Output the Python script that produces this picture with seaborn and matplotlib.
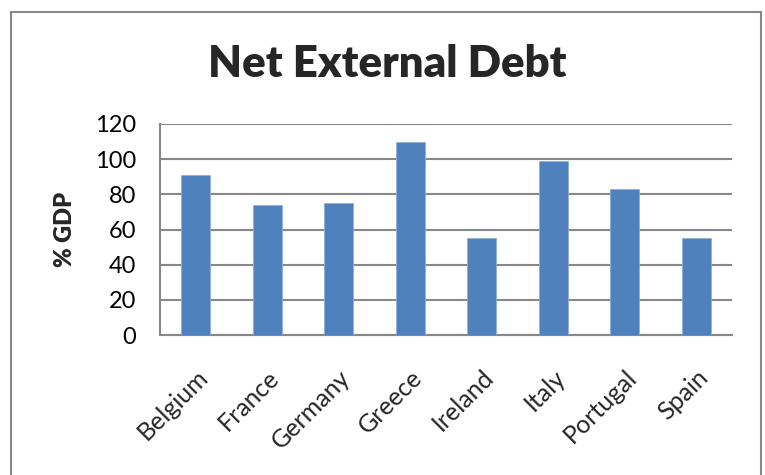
import matplotlib
matplotlib.use("Agg")
import matplotlib.pyplot as plt
import matplotlib.patches as mpatches
import seaborn as sns
import pandas as pd

countries = ["Belgium", "France", "Germany", "Greece", "Ireland", "Italy", "Portugal", "Spain"]
debt_pct_gdp = [91, 74, 75, 110, 55, 99, 83, 55]
y_ticks = [0, 20, 40, 60, 80, 100, 120]

title_text = "Net External Debt"
y_label = "% GDP"

sns.set_theme(style="white")
plt.rcParams["font.family"] = ["Lato", "DejaVu Sans"]

df = pd.DataFrame({"country": countries, "debt": debt_pct_gdp})

fig = plt.figure(figsize=(7.65, 4.75), dpi=100)
ax = fig.add_axes([160 / 765, 1 - 335 / 475, (732 - 160) / 765, (335 - 124) / 475])

sns.barplot(data=df, x="country", y="debt", color="#4F81BD", saturation=1,
            width=0.41, edgecolor="#8fb0d8", linewidth=0.6, ax=ax, zorder=3)

ax.set_ylim(0, 120)
ax.set_xlim(-0.5, len(countries) - 0.5)
ax.set_yticks(y_ticks)
ax.set_yticklabels([str(t) for t in y_ticks], fontsize=17)
ax.yaxis.grid(True, color="#888888", linewidth=1.5, zorder=0)
ax.set_axisbelow(True)
ax.tick_params(axis="y", length=0, pad=17, colors="black")
ax.tick_params(axis="x", length=0, pad=22)
ax.set_xticks(range(len(countries)))
ax.set_xticklabels(countries, rotation=45, ha="right", rotation_mode="anchor", fontsize=18)
ax.set_xlabel("")
ax.set_ylabel(y_label, fontsize=17, fontweight="heavy", labelpad=14)

for side in ["top", "right"]:
    ax.spines[side].set_visible(False)
for side in ["left", "bottom"]:
    ax.spines[side].set_color("#888888")
    ax.spines[side].set_linewidth(1.5)

fig.text(387 / 765, 1 - 64 / 475, title_text, ha="center", va="center",
         fontsize=31.5, fontweight="heavy")

border = mpatches.Rectangle((11 / 765, -0.05), (761 - 11) / 765, 1 - 12 / 475 + 0.05,
                            transform=fig.transFigure, fill=False,
                            edgecolor="#888888", linewidth=1.5)
fig.patches.append(border)

fig.savefig("out.png", dpi=100)
